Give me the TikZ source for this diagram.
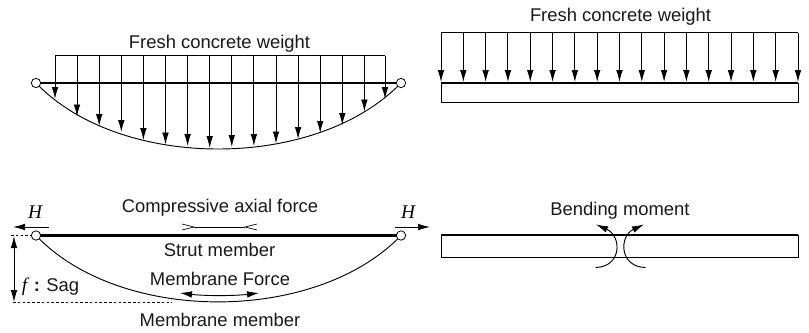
\documentclass[tikz,border=0pt]{standalone}
\usepackage{fontspec}
\setmainfont{Liberation Sans}
\newfontfamily\serifit{Liberation Serif}
\usetikzlibrary{arrows.meta}
\tikzset{
  x=0.75pt,y=-0.75pt,
  lab/.style={inner sep=0pt,font=\fontsize{13.8pt}{15pt}\selectfont,text=black!90},
  hvar/.style={inner sep=0pt,font=\fontsize{14.5pt}{15pt}\selectfont\serifit\itshape},
  pin/.style={circle,draw,fill=white,line width=0.6pt,minimum size=7pt,inner sep=0pt},
  thin line/.style={line width=0.7pt},
  beam/.style={line width=1.8pt},
  load/.style={line width=0.7pt,-{Latex[length=9pt,width=5pt]}},
  force/.style={line width=0.7pt,-{Latex[length=9pt,width=5pt]}},
  dforce/.style={line width=0.7pt,{Latex[length=9pt,width=5pt]}-{Latex[length=9pt,width=5pt]}},
  dim/.style={line width=0.5pt,dash pattern=on 2pt off 1.6pt},
}
\begin{document}
\begin{tikzpicture}
\useasboundingbox (0,0) rectangle (809,332);
% top left
\coordinate (tlA) at (36,83); \coordinate (tlB) at (401,83);
\draw[thin line] (tlA) .. controls (120,171) and (316,171) .. (tlB);
\draw[beam] (tlA) -- (tlB);
\coordinate (loadL) at (55,55.5); \coordinate (loadR) at (385,55.5);
\draw[thin line] (loadL) -- (loadR);
\foreach \x/\y in {55/99,77/116.5,99.2/126,121.3/132,143.4/140,165.5/144.5,187.6/146,209.7/148,231.8/147,253.9/146,276/143.5,298.1/139,320.2/133,342.3/125,364.4/111.5,385/99}{
  \coordinate (s) at (\x,55.5); \coordinate (e) at (\x,\y);
  \draw[load] (s) -- (e);
}
\node[pin] (pinTL) at (tlA) {};
\node[pin] (pinTR) at (tlB) {};
\node[lab] (fresh1) at (219.5,44) {Fresh concrete weight};
% top right
\node[lab] (fresh2) at (620.5,17) {Fresh concrete weight};
\coordinate (rtL) at (441,32.5); \coordinate (rtR) at (798,32.5);
\draw[thin line] (rtL) -- (rtR);
\foreach \i in {0,...,16}{
  \pgfmathsetmacro{\xx}{441+\i*22.31}
  \coordinate (s) at (\xx,32.5); \coordinate (e) at (\xx,82);
  \draw[load] (s) -- (e);
}
\draw[thin line] (441,83) rectangle (798,102);
\draw[beam] (441,83) -- (798,83);
% bottom left
\coordinate (blA) at (36,235.5); \coordinate (blB) at (401,235.5);
\draw[thin line] (blA) .. controls (120,324) and (316,324) .. (blB);
\draw[beam] (blA) -- (blB);
\node[pin] (pinBL) at (blA) {};
\node[pin] (pinBR) at (blB) {};
\node[hvar] (h1) at (35,212) {H};
\node[hvar] (h2) at (408,212) {H};
\coordinate (hl1) at (49,227); \coordinate (hl2) at (13,227);
\coordinate (hr1) at (395,227); \coordinate (hr2) at (430,227);
\draw[force] (hl1) -- (hl2);
\draw[force] (hr1) -- (hr2);
\node[lab] (comp) at (220,208) {Compressive axial force};
\coordinate (cL) at (194,227); \coordinate (cR) at (245,227);
\draw[line width=0.5pt] (cL) -- (cR);
\draw[line width=0.5pt] (182,224) -- (cL) -- (182,230);
\draw[line width=0.5pt] (257,224) -- (cR) -- (257,230);
\node[lab] (strut) at (219.5,250) {Strut member};
\node[lab] (mf) at (220,278.5) {Membrane Force};
\node[lab] (mm) at (220,320) {Membrane member};
\coordinate (mfL) at (180,293); \coordinate (mfR) at (259,293);
\draw[dforce] (mfL) .. controls (205,296) and (234,296) .. (mfR);
\coordinate (d1) at (11,235.5); \coordinate (d2) at (32,235.5);
\coordinate (d3) at (13,302); \coordinate (d4) at (172,302);
\draw[dim] (d1) -- (d2);
\draw[dim] (d3) -- (d4);
\coordinate (sagT) at (14,236); \coordinate (sagB) at (14,302);
\draw[dforce] (sagT) -- (sagB);
\node[hvar,anchor=base] (fv) at (24.5,291) {f};
\node[lab,anchor=base] (colon) at (37,291) {\textbf{:}};
\node[lab,anchor=base west] (sag) at (46,291) {Sag};
% bottom right
\draw[thin line] (441,235) rectangle (798,257);
\draw[beam] (441,235) -- (798,235);
\node[lab] (bm) at (620,210.5) {Bending moment};
\coordinate (bl1) at (595.5,267.5); \coordinate (bl2) at (596,224.5);
\coordinate (br1) at (645.5,267.5); \coordinate (br2) at (644,224.5);
\draw[force] (bl1) .. controls (622,267) and (622,236) .. (bl2);
\draw[force] (br1) .. controls (619,267) and (619,236) .. (br2);
\end{tikzpicture}
\end{document}
